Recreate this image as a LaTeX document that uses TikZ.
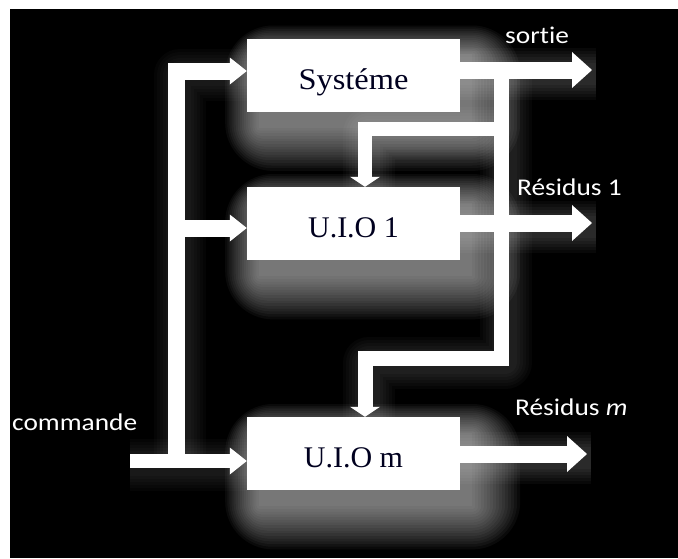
\documentclass[tikz,border=0pt]{standalone}
\usepackage{graphicx}
\usepackage{fontspec}
\setmainfont{Liberation Serif}
\newfontfamily\labelfont[Ligatures=NoCommon]{Carlito}
\usetikzlibrary{arrows.meta,calc}
\pgfdeclarelayer{bg}
\pgfdeclarelayer{glow}
\pgfsetlayers{bg,glow,main}
\tikzset{
  block/.style={fill=white, draw=none, minimum width=213pt, minimum height=73pt,
    inner sep=0pt, text height=28pt, text depth=0pt,
    font=\fontsize{30}{30}\selectfont, text=black!88!blue},
  lbl/.style={text=white, font=\labelfont\fontsize{24}{24}\selectfont, inner sep=0pt, anchor=base west},
  wire/.style={color=white, line width=17pt, line join=miter, line cap=butt},
  inhead/.style={-{Triangle[width=27pt,length=17pt,line width=0pt]}},
  outhead/.style={-{Triangle[width=36pt,length=20pt,line width=0pt]}},
  downhead/.style={-{Triangle[width=30pt,length=10pt,line width=0pt]}},
  haze/.style={white, opacity=0.04},
}
\begin{document}
\begin{tikzpicture}[x=1pt,y=-1pt]
\useasboundingbox (0,0) rectangle (678,558);
\begin{pgfonlayer}{bg}
  \fill[white] (0,0) rectangle (678,558);
  \fill[black] (10,9) rectangle (678,558);
\end{pgfonlayer}

% blocks
\node[block] (sys)  at (353.5,75)    {\scalebox{1.08}[1]{Systéme}};
\node[block] (uio1) at (353.5,223.5) {U.I.O 1};
\node[block] (uiom) at (353.5,453.5) {U.I.O m};

% coordinates
\coordinate (cin) at (130,461);
\coordinate (jb) at (176,461);
\coordinate (ysys) at (0,71);
\coordinate (y1) at (0,228);
\coordinate (fbtop) at (501.5,70);
\coordinate (fb1) at (501.5,128.5);
\coordinate (fbm) at (501.5,358.5);
\coordinate (dx) at (365,0);
\coordinate (sortieEnd) at (592,70);
\coordinate (r1End) at (592,223);
\coordinate (rmEnd) at (587,454);

% glow (soft white haze, mostly below-right of the blocks)
\begin{pgfonlayer}{glow}
\foreach \n in {sys,uio1,uiom}{
  \foreach \r in {0,3,...,48}{
    \fill[haze, rounded corners=\r pt]
      ($(\n.north west)+(12-\r*0.7,16-\r*0.6)$) rectangle ($(\n.south east)+(12+\r,16+\r*0.9)$);
  }
}
\foreach \w in {22,28,...,52}{
  \draw[white, opacity=0.03, line width=\w pt, line join=round]
    ($(sys.east |- fbtop)+(0,4)$) -- ($(sortieEnd)+(4,4)$);
  \draw[white, opacity=0.03, line width=\w pt, line join=round]
    ($(uio1.east |- r1End)+(0,4)$) -- ($(r1End)+(4,4)$);
  \draw[white, opacity=0.03, line width=\w pt, line join=round]
    ($(uiom.east |- rmEnd)+(0,4)$) -- ($(rmEnd)+(4,4)$);
  \draw[white, opacity=0.025, line width=\w pt, line join=round]
    ($(fbtop)+(4,0)$) -- ($(fbm)+(4,4)$) -- ($(dx |- fbm)+(4,4)$) -- ($(dx |- uiom.north)+(4,0)$);
  \draw[white, opacity=0.025, line width=\w pt, line join=round]
    ($(fb1)+(4,4)$) -- ($(dx |- fb1)+(4,4)$) -- ($(dx |- uio1.north)+(4,0)$);
  \draw[white, opacity=0.02, line width=\w pt, line join=round]
    ($(jb)+(4,0)$) -- ($(jb |- ysys)+(4,4)$) -- ($(sys.west |- ysys)+(0,4)$);
  \draw[white, opacity=0.02, line width=\w pt, line join=round]
    ($(cin)+(0,4)$) -- ($(uiom.west |- cin)+(0,4)$);
}
\end{pgfonlayer}

% inputs
\draw[wire, line width=14pt, inhead] (cin) -- (uiom.west |- cin);
\draw[wire, inhead] (jb) |- (sys.west |- ysys);
\draw[wire, inhead] (jb |- y1) -- (uio1.west |- y1);

% outputs
\draw[wire, outhead] (sys.east |- fbtop) -- (sortieEnd);
\draw[wire, outhead] (uio1.east |- r1End) -- (r1End);
\draw[wire, outhead] (uiom.east |- rmEnd) -- (rmEnd);

% feedback
\draw[wire, line width=15pt, downhead] (fbtop) -- (fbm) -| (dx |- uiom.north);
\draw[wire, line width=14pt, downhead] (fb1) -| (dx |- uio1.north);

% labels
\node[lbl] (lsortie) at (505,43)  {\scalebox{1.14}[1]{sortie}};
\node[lbl] (lres1)   at (517,195) {\scalebox{1.14}[1]{Résidus 1}};
\node[lbl] (lresm)   at (515,415) {\scalebox{1.14}[1]{Résidus \textit{m}}};
\node[lbl] (lcmd)    at (12,430)  {\scalebox{1.14}[1]{commande}};
\end{tikzpicture}
\end{document}
